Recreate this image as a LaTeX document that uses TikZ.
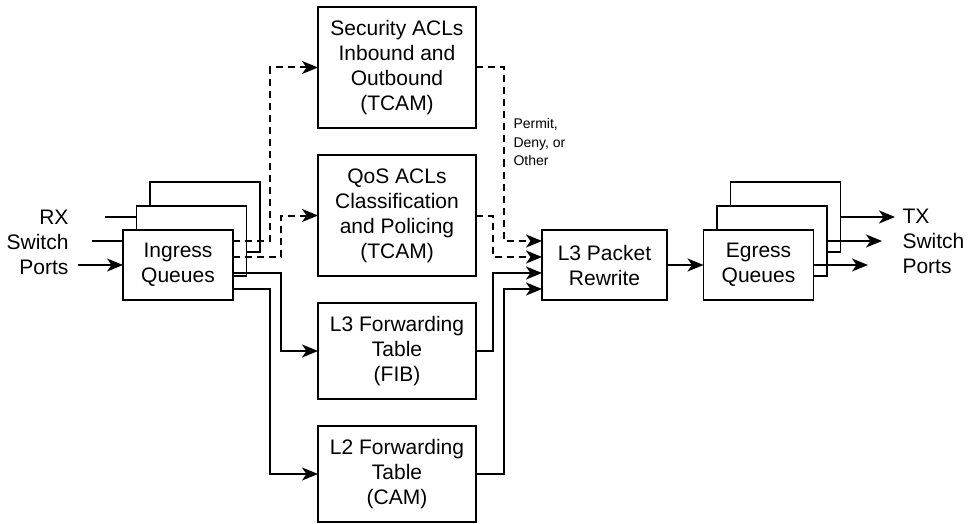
\documentclass[tikz,border=0pt]{standalone}
\usepackage{fontspec}
\setmainfont{Liberation Sans}
\usetikzlibrary{arrows.meta}
\usetikzlibrary{backgrounds}

\begin{document}
\begin{tikzpicture}[x=1pt, y=-1pt,
  font=\fontsize{21}{25}\selectfont,
  block/.style={draw, rectangle, line width=1.2pt, fill=white, align=center,
    inner sep=0pt, outer sep=0pt, minimum width=158pt, minimum height=121pt},
  table/.style={block, minimum height=96pt},
  queue/.style={block, minimum width=110pt, minimum height=70pt},
  arr/.style={line width=2pt, -{Stealth[length=16pt,width=13pt,inset=4.5pt]}},
  darr/.style={arr, dash pattern=on 7pt off 5pt},
  wire/.style={line width=2pt},
]
\useasboundingbox (0,0) rectangle (969,524);

\foreach \i in {2,1} {
  \node (in\i) [queue] at ({178+13.5*\i}, {265-24*\i}) {};
  \node (eg\i) [queue] at ({758.5+13.5*\i}, {265-24*\i}) {};
}
\node (in0) [queue] at (178, 265) {Ingress\\Queues};
\node (eg0) [queue] at (758.5, 265) {Egress\\Queues};

\node (sec) [block] at (397, 67.5) {Security ACLs\\Inbound and\\Outbound\\(TCAM)};
\node (qos) [block] at (397, 215.5) {QoS ACLs\\Classification\\and Policing\\(TCAM)};
\node (fib) [table] at (397, 351) {L3 Forwarding\\Table\\(FIB)};
\node (cam) [table] at (397, 474) {L2 Forwarding\\Table\\(CAM)};
\node (rw) [queue, minimum width=125pt] at (604.5, 265) {L3 Packet\\Rewrite};

\node (rx) [anchor=east, align=right] at (72, 242) {RX\\Switch\\Ports};
\node (tx) [anchor=west, align=left] at (899, 241) {TX\\Switch\\Ports};
\node (verdict) [anchor=north west, align=left, font=\fontsize{14}{18.5}\selectfont]
  at (510, 115) {Permit,\\Deny, or\\Other};

\coordinate (rx2) at (105, 217);
\coordinate (rx1) at (92, 241);
\coordinate (rx0) at (78, 265);
\coordinate (tx2) at (895, 217);
\coordinate (tx1) at (882, 241);
\coordinate (tx0) at (868, 265);

\begin{scope}[on background layer]
  \draw[wire] (rx2) -- (in2.west);
  \draw[wire] (rx1) -- (in1.west);
\end{scope}
\draw[arr] (rx0) -- (in0.west);

\draw[darr] ([yshift=24pt]in0.east) -- ++(37,0) |- (sec.west);
\draw[darr] ([yshift=8pt]in0.east) -- ++(48,0) |- (qos.west);
\draw[arr] ([yshift=-8pt]in0.east) -- ++(48,0) |- (fib.west);
\draw[arr] ([yshift=-24pt]in0.east) -- ++(37,0) |- (cam.west);

\draw[darr] (sec.east) -- ++(28,0) |- ([yshift=24pt]rw.west);
\draw[darr] (qos.east) -- ++(17,0) |- ([yshift=8pt]rw.west);
\draw[arr] (fib.east) -- ++(17,0) |- ([yshift=-8pt]rw.west);
\draw[arr] (cam.east) -- ++(28,0) |- ([yshift=-24pt]rw.west);

\draw[arr] (rw.east) -- (eg0.west);

\draw[arr] (eg2.east) -- (tx2);
\draw[arr] (eg1.east) -- (tx1);
\draw[arr] (eg0.east) -- (tx0);

\end{tikzpicture}
\end{document}
